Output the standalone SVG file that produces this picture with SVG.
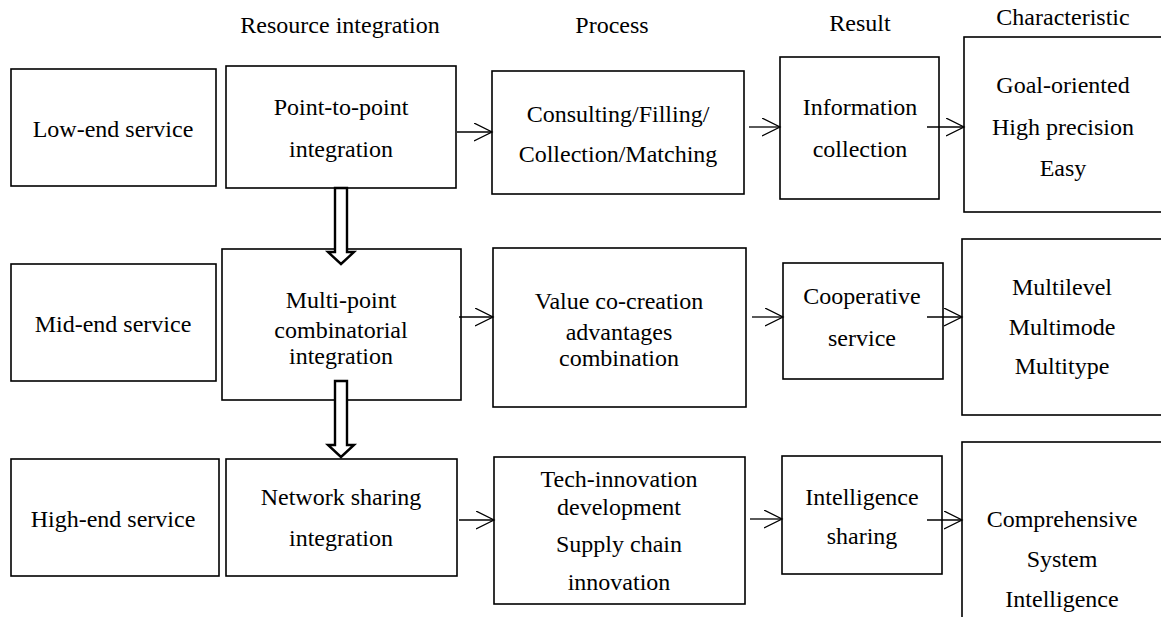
<svg xmlns="http://www.w3.org/2000/svg" width="1161" height="617" viewBox="0 0 1161 617">
<style>
.b{fill:#fff;stroke:#000;stroke-width:1.6}
.t{font-family:"Liberation Serif","Times New Roman",serif;font-size:24px;fill:#000;text-anchor:middle}
.c{stroke:#000;stroke-width:1.3;fill:none}
.blk{fill:#fff;stroke:#000;stroke-width:2.4;stroke-linejoin:miter}
</style>
<defs>
<marker id="ah" markerUnits="userSpaceOnUse" markerWidth="22" markerHeight="22" refX="18" refY="9" orient="auto" viewBox="0 0 22 22">
<path d="M0,0 L18,9 L0,18" fill="none" stroke="#000" stroke-width="1.3"/>
</marker>
</defs>
<g id="headers">
<text class="t" x="340" y="33">Resource integration</text>
<text class="t" x="612" y="33">Process</text>
<text class="t" x="860" y="31">Result</text>
<text class="t" x="1063" y="25">Characteristic</text>
</g>
<g id="low-end"><rect class="b" x="11" y="69" width="205" height="117"/><text class="t" x="113" y="137">Low-end service</text></g>
<g id="point-to-point"><rect class="b" x="226" y="66" width="230" height="122"/><text class="t" x="341" y="115">Point-to-point</text><text class="t" x="341" y="157">integration</text></g>
<g id="consulting"><rect class="b" x="492" y="71" width="252" height="123"/><text class="t" x="618" y="122">Consulting/Filling/</text><text class="t" x="618" y="162">Collection/Matching</text></g>
<g id="info"><rect class="b" x="780" y="57" width="159" height="142"/><text class="t" x="860" y="115">Information</text><text class="t" x="860" y="157">collection</text></g>
<g id="char1"><rect class="b" x="964" y="37" width="230" height="175"/><text class="t" x="1063" y="93">Goal-oriented</text><text class="t" x="1063" y="135">High precision</text><text class="t" x="1063" y="176">Easy</text></g>

<g id="mid-end"><rect class="b" x="11" y="264" width="205" height="117"/><text class="t" x="113" y="332">Mid-end service</text></g>
<g id="multi-point"><rect class="b" x="222" y="249" width="239" height="151"/><text class="t" x="341" y="308">Multi-point</text><text class="t" x="341" y="338">combinatorial</text><text class="t" x="341" y="364">integration</text></g>
<g id="value"><rect class="b" x="493" y="248" width="253" height="159"/><text class="t" x="619" y="309">Value co-creation</text><text class="t" x="619" y="340">advantages</text><text class="t" x="619" y="366">combination</text></g>
<g id="cooperative"><rect class="b" x="783" y="263" width="160" height="116"/><text class="t" x="862" y="304">Cooperative</text><text class="t" x="862" y="346">service</text></g>
<g id="char2"><rect class="b" x="962" y="239" width="230" height="176"/><text class="t" x="1062" y="295">Multilevel</text><text class="t" x="1062" y="335">Multimode</text><text class="t" x="1062" y="374">Multitype</text></g>

<g id="high-end"><rect class="b" x="11" y="459" width="208" height="117"/><text class="t" x="113" y="527">High-end service</text></g>
<g id="network"><rect class="b" x="226" y="459" width="231" height="117"/><text class="t" x="341" y="505">Network sharing</text><text class="t" x="341" y="546">integration</text></g>
<g id="tech"><rect class="b" x="494" y="457" width="251" height="147"/><text class="t" x="619" y="487">Tech-innovation</text><text class="t" x="619" y="515">development</text><text class="t" x="619" y="552">Supply chain</text><text class="t" x="619" y="590">innovation</text></g>
<g id="intelligence"><rect class="b" x="782" y="456" width="160" height="118"/><text class="t" x="862" y="505">Intelligence</text><text class="t" x="862" y="544">sharing</text></g>
<g id="char3"><rect class="b" x="962" y="442" width="230" height="200"/><text class="t" x="1062" y="527">Comprehensive</text><text class="t" x="1062" y="567">System</text><text class="t" x="1062" y="607">Intelligence</text></g>

<g id="connectors">
<line class="c" x1="457" y1="132" x2="492" y2="132" marker-end="url(#ah)"/>
<line class="c" x1="749" y1="127" x2="780" y2="127" marker-end="url(#ah)"/>
<line class="c" x1="927" y1="127" x2="964" y2="127" marker-end="url(#ah)"/>
<line class="c" x1="459" y1="317" x2="493" y2="317" marker-end="url(#ah)"/>
<line class="c" x1="752" y1="317" x2="783" y2="317" marker-end="url(#ah)"/>
<line class="c" x1="927" y1="317" x2="962" y2="317" marker-end="url(#ah)"/>
<line class="c" x1="459" y1="520" x2="494" y2="520" marker-end="url(#ah)"/>
<line class="c" x1="750" y1="519" x2="782" y2="519" marker-end="url(#ah)"/>
<line class="c" x1="927" y1="520" x2="962" y2="520" marker-end="url(#ah)"/>
<polygon class="blk" points="335,188 347,188 347,252 354,252 341,264 328,252 335,252"/>
<polygon class="blk" points="335,381 347,381 347,445 354,445 341,457 328,445 335,445"/>
</g>
</svg>
